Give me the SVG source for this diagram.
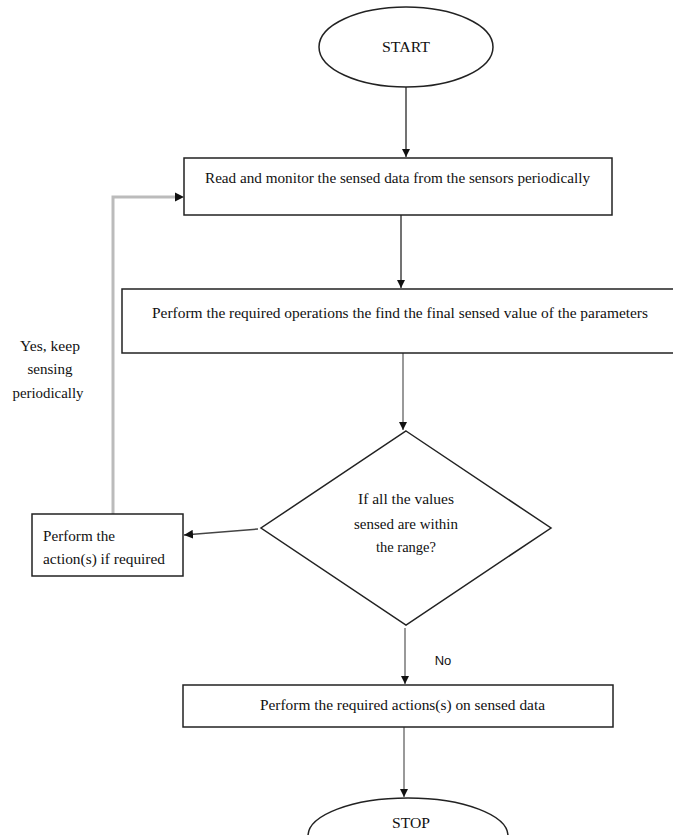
<svg xmlns="http://www.w3.org/2000/svg" width="673" height="835" viewBox="0 0 673 835">
<style>
.shape{fill:#fff;stroke:#222;stroke-width:1.5}
.t{font-family:"Liberation Serif","Times New Roman",serif;font-size:14px;fill:#111}
.c{text-anchor:middle}
.s{font-family:"Liberation Sans",Arial,sans-serif;font-size:13px;fill:#111}
.dark{stroke:#444;stroke-width:1.5;fill:none}
.gray{stroke:#999;stroke-width:2;fill:none}
.lgray{stroke:#bbb;stroke-width:3;fill:none}
</style>
<defs>
<marker id="ah" viewBox="0 0 10 10" refX="10" refY="5" markerWidth="8" markerHeight="8" markerUnits="userSpaceOnUse" orient="auto">
<path d="M0,0 L10,5 L0,10 z" fill="#111"/>
</marker>
<marker id="ahs" viewBox="0 0 10 10" refX="10" refY="5" markerWidth="9" markerHeight="9" markerUnits="userSpaceOnUse" orient="auto">
<path d="M0,0 L10,5 L0,10 z" fill="#111"/>
</marker>
</defs>
<rect width="673" height="835" fill="#fff"/>
<g id="connectors">
<line class="dark" x1="406" y1="87" x2="406" y2="157" marker-end="url(#ah)"/>
<line class="dark" x1="401" y1="215" x2="401" y2="288" marker-end="url(#ah)"/>
<line class="gray" x1="403" y1="353" x2="403" y2="430" marker-end="url(#ah)"/>
<line class="dark" x1="258" y1="529" x2="184" y2="535" marker-end="url(#ahs)"/>
<polyline class="lgray" points="113,514 113,197 175,197"/>
<path d="M175,192.5 L184,197 L175,201.5 z" fill="#111"/>
<line class="gray" x1="405" y1="628" x2="405" y2="684" marker-end="url(#ah)"/>
<line class="gray" x1="404" y1="727" x2="404" y2="797" marker-end="url(#ah)"/>
<text class="t" x="50" y="351" text-anchor="middle" textLength="60" lengthAdjust="spacingAndGlyphs">Yes, keep</text>
<text class="t" x="50" y="374" text-anchor="middle" textLength="45" lengthAdjust="spacingAndGlyphs">sensing</text>
<text class="t" x="48" y="398" text-anchor="middle" textLength="71" lengthAdjust="spacingAndGlyphs">periodically</text>
<text class="s" x="443" y="665" text-anchor="middle">No</text>
</g>
<g id="start">
<ellipse class="shape" cx="406" cy="47" rx="87" ry="40"/>
<text class="t c" x="406" y="52" textLength="48" lengthAdjust="spacingAndGlyphs">START</text>
</g>
<g id="read">
<rect class="shape" x="184" y="158" width="428" height="57"/>
<text class="t" x="205" y="183" textLength="385" lengthAdjust="spacingAndGlyphs">Read and monitor the sensed data from the sensors periodically</text>
</g>
<g id="operations">
<rect class="shape" x="122" y="289" width="560" height="64"/>
<text class="t" x="152" y="318" textLength="496" lengthAdjust="spacingAndGlyphs">Perform the required operations the find the final sensed value of the parameters</text>
</g>
<g id="decision">
<polygon class="shape" points="406,431 551,528 406,625 261,528"/>
<text class="t c" x="406" y="504" textLength="96" lengthAdjust="spacingAndGlyphs">If all the values</text>
<text class="t c" x="406" y="529" textLength="104" lengthAdjust="spacingAndGlyphs">sensed are within</text>
<text class="t c" x="406" y="552" textLength="60" lengthAdjust="spacingAndGlyphs">the range?</text>
</g>
<g id="action">
<rect class="shape" x="32" y="514" width="151" height="62"/>
<text class="t" x="43" y="541" textLength="72" lengthAdjust="spacingAndGlyphs">Perform the</text>
<text class="t" x="43" y="564" textLength="122" lengthAdjust="spacingAndGlyphs">action(s) if required</text>
</g>
<g id="actions-sensed">
<rect class="shape" x="183" y="685" width="430" height="42"/>
<text class="t" x="260" y="710" textLength="285" lengthAdjust="spacingAndGlyphs">Perform the required actions(s) on sensed data</text>
</g>
<g id="stop">
<ellipse class="shape" cx="408" cy="836" rx="100" ry="38"/>
<text class="t c" x="411" y="828" textLength="38" lengthAdjust="spacingAndGlyphs">STOP</text>
</g>
</svg>
